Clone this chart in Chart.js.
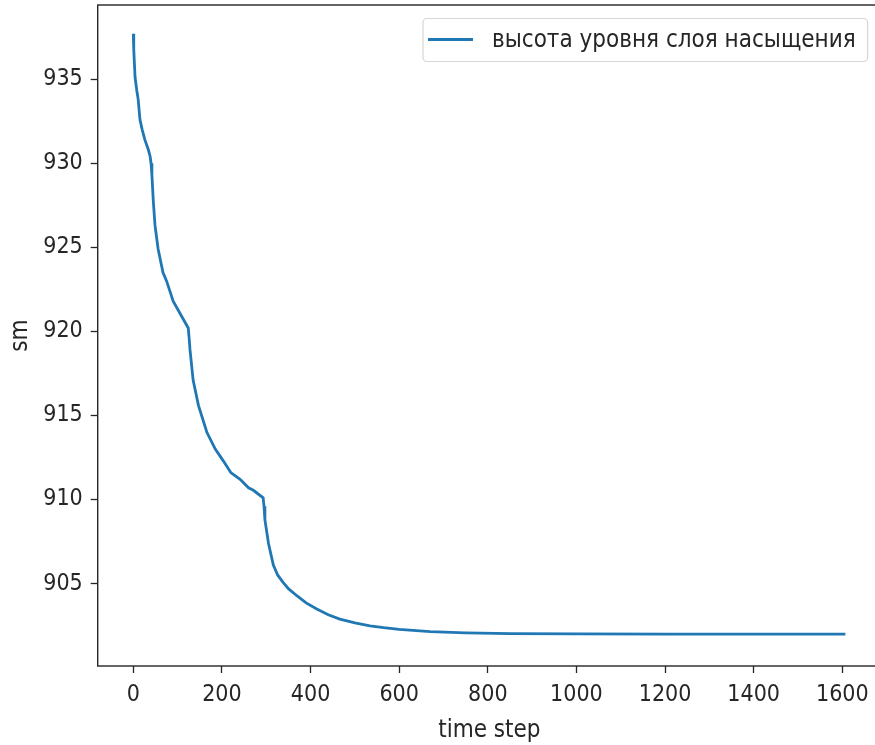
<!DOCTYPE html>
<html>
<head>
<meta charset="utf-8">
<script src="https://cdn.jsdelivr.net/npm/chart.js@4.4.0/dist/chart.umd.min.js"></script>
<style>
  html, body { margin: 0; padding: 0; background: #fff; overflow: hidden; }
  #wrap { position: relative; width: 895px; height: 745px; }
</style>
</head>
<body>
<div id="wrap"><canvas id="levelChart"></canvas></div>
<script>
// saturation layer level over time
const timeSteps = [0, 1, 2, 4, 8, 11, 15, 20, 26, 34, 38, 40, 42, 45, 49, 56, 67, 75, 90, 109, 124,
  126, 128, 135, 147, 166, 185, 203, 220, 241, 260, 271, 293,
  295, 297, 301, 305, 316, 326, 338, 350, 369, 390, 414, 440, 466, 500, 534, 565, 600, 670, 750, 850, 1000, 1200, 1400, 1607];
const level = [937.7, 936.8, 936.2, 935.1, 934.3, 933.8, 932.6, 932.0, 931.4, 930.8, 930.4, 930.0, 929.3, 927.8, 926.3, 924.9, 923.5, 923.0, 921.8, 920.9, 920.2,
  919.6, 918.9, 917.1, 915.6, 914.0, 913.0, 912.3, 911.6, 911.2, 910.7, 910.55, 910.1,
  909.6, 908.8, 908.1, 907.4, 906.1, 905.5, 905.07, 904.7, 904.28, 903.85, 903.49, 903.15, 902.89, 902.66, 902.49, 902.38, 902.28, 902.14, 902.07, 902.03, 902.01, 902.0, 902.0, 902.0];

const xTicks = [0, 200, 400, 600, 800, 1000, 1200, 1400, 1600];
const yTicks = [905, 910, 915, 920, 925, 930, 935];

const seriesLabel = "высота уровня слоя насыщения";
const lineColor = "#1f77b4";
const inkColor = "#262626";
const fontFamily = "'DejaVu Sans Condensed', 'DejaVu Sans', sans-serif";

Chart.defaults.font.family = fontFamily;
Chart.defaults.font.size = 23;
Chart.defaults.color = inkColor;

// box around the axes (matplotlib-like spines)
const frame = {
  id: "frame",
  afterDraw(chart) {
    const { ctx, chartArea: a } = chart;
    ctx.save();
    ctx.strokeStyle = inkColor;
    ctx.lineWidth = 1.4;
    ctx.strokeRect(a.left, a.top, a.right - a.left, a.bottom - a.top);
    ctx.restore();
  },
};

// legend box in the upper right corner
const cornerLegend = {
  id: "cornerLegend",
  afterDraw(chart) {
    const { ctx } = chart;
    const label = chart.data.datasets[0].label;
    ctx.save();
    ctx.font = "24px " + fontFamily;
    const textX = 492;
    const w = ctx.measureText(label).width;
    const x0 = 423, y0 = 18.5, x1 = textX + w + 12, y1 = 61.5;
    ctx.beginPath();
    ctx.roundRect(x0, y0, x1 - x0, y1 - y0, 4);
    ctx.fillStyle = "rgba(255,255,255,0.8)";
    ctx.fill();
    ctx.strokeStyle = "#d6d6d6";
    ctx.lineWidth = 1.2;
    ctx.stroke();
    ctx.beginPath();
    ctx.moveTo(428, 39.5);
    ctx.lineTo(473, 39.5);
    ctx.strokeStyle = lineColor;
    ctx.lineWidth = 2.8;
    ctx.stroke();
    ctx.fillStyle = inkColor;
    ctx.textBaseline = "middle";
    ctx.fillText(label, textX, 41);
    ctx.restore();
  },
};

const data = {
  datasets: [
    {
      label: seriesLabel,
      data: timeSteps.map((t, i) => ({ x: t, y: level[i] })),
      borderColor: lineColor,
      borderWidth: 2.8,
      pointRadius: 0,
      tension: 0,
      fill: false,
    },
  ],
};

const config = {
  type: "line",
  data: data,
  options: {
    responsive: true,
    maintainAspectRatio: false,
    animation: false,
    layout: {
      padding: { left: 0, top: 5, right: 14, bottom: 0 },
    },
    scales: {
      x: {
        type: "linear",
        min: -80.35,
        max: 1687.35,
        afterBuildTicks: (scale) => { scale.ticks = xTicks.map((v) => ({ value: v })); },
        afterFit: (scale) => {
          scale.height = 79;
          scale.paddingLeft = 0; scale.paddingRight = 0;
        },
        grid: { display: true, drawOnChartArea: false, drawTicks: true, tickLength: 7, tickColor: inkColor, tickWidth: 1.3 },
        border: { display: false },
        ticks: { padding: 8, maxRotation: 0, color: inkColor, callback: (v) => String(v) },
        title: { display: true, text: "time step", color: inkColor, font: { size: 24 }, padding: { top: 2, bottom: 0 } },
      },
      y: {
        type: "linear",
        min: 900.1,
        max: 939.41,
        afterBuildTicks: (scale) => { scale.ticks = yTicks.map((v) => ({ value: v })); },
        afterFit: (scale) => {
          scale.width = 97.7;
          scale.paddingTop = 0; scale.paddingBottom = 0;
        },
        grid: { display: true, drawOnChartArea: false, drawTicks: true, tickLength: 7, tickColor: inkColor, tickWidth: 1.3 },
        border: { display: false },
        ticks: { padding: 8, color: inkColor, callback: (v) => String(v) },
        title: { display: true, text: "sm", color: inkColor, font: { size: 24 }, padding: { top: 6, bottom: 0 } },
      },
    },
    plugins: {
      legend: { display: false },
      tooltip: { enabled: false },
    },
  },
  plugins: [frame, cornerLegend],
};

const ctx = document.getElementById("levelChart").getContext("2d");
let levelChart = new Chart(ctx, config);
</script>
</body>
</html>
